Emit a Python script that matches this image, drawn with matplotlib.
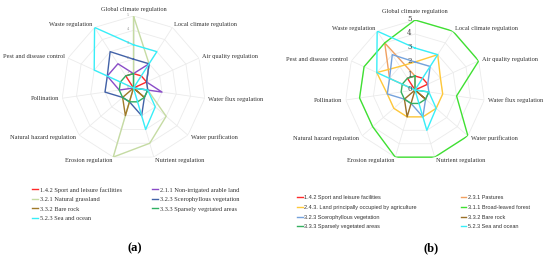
import numpy as np
import matplotlib.pyplot as plt

# categories clockwise from the top
CATEGORIES = ["Global climate regulation", "Local climate regulation",
              "Air quality regulation", "Water flux regulation",
              "Water purification", "Nutrient regulation", "Erosion regulation",
              "Natural hazard regulation", "Pollination",
              "Pest and disease control", "Waste regulation"]
LEVELS = [0, 1, 2, 3, 4, 5]

# scores per category (same order as CATEGORIES)
SPORT = [1, 1, 1, 0, 0, 0, 0, 0, 0, 0, 1]
NON_IRRIGATED = [1, 2, 1, 2, 0, 0, 0, 0, 1, 2, 2]
GRASSLAND = [5, 2, 1, 1, 3, 4, 5, 0, 0, 0, 0]
SCLEROPHYLLOUS = [2, 2, 1, 1, 1, 2, 1, 1, 2, 2, 3]
BARE_ROCK = [0, 0, 0, 0, 1, 0, 2, 1, 0, 0, 0]
SPARSE = [1, 0, 0, 1, 1, 1, 1, 1, 1, 1, 1]
SEA = [3, 3, 0, 1, 2, 3, 0, 0, 0, 3, 5]
PASTURES = [1, 0, 0, 0, 0, 0, 0, 0, 0, 2, 4]
AGRICULTURE = [2, 3, 2, 2, 2, 2, 2, 2, 2, 3, 2]
FOREST = [5, 5, 5, 3, 5, 5, 5, 4, 4, 4, 4]

SERIES_A = [
    ("1.4.2 Sport and leisure facilities", SPORT, "#ff2a2a"),
    ("2.1.1 Non-irrigated arable land", NON_IRRIGATED, "#8a4cc8"),
    ("3.2.1 Natural grassland", GRASSLAND, "#c5dba3"),
    ("3.2.3 Scerophyllous vegetation", SCLEROPHYLLOUS, "#4262a8"),
    ("3.3.2 Bare rock", BARE_ROCK, "#a07a2a"),
    ("3.3.3 Sparsely vegrtated areas", SPARSE, "#2fb062"),
    ("5.2.3 Sea and ocean", SEA, "#38eef8"),
]
SERIES_B = [
    ("1.4.2 Sport and leisure facilities", SPORT, "#ff2a2a"),
    ("2.3.1 Pastures", PASTURES, "#f0a060"),
    ("2.4.3. Land principally occupied by agriculture", AGRICULTURE, "#ffc83a"),
    ("3.1.1 Broad-leaved forest", FOREST, "#3fe032"),
    ("3.2.3 Scerophyllous vegetation", SCLEROPHYLLOUS, "#74a2dc"),
    ("3.3.2 Bare rock", BARE_ROCK, "#9a7028"),
    ("3.3.3 Sparsely vegetated areas", SPARSE, "#35b060"),
    ("5.2.3 Sea and ocean", SEA, "#38eef8"),
]

ANGLES = np.linspace(0, 2 * np.pi, len(CATEGORIES), endpoint=False)
W, H = 550, 259


def radar(rect, series, tick_size, tick_color, top_r):
    ax = fig.add_axes(rect, projection="polar")
    ax.set_theta_offset(np.pi / 2)
    ax.set_theta_direction(-1)
    ax.set_ylim(0, 5)
    ax.grid(False)
    ax.set_xticks([])
    ax.set_yticks([])
    ax.spines["polar"].set_visible(False)
    closed = np.append(ANGLES, ANGLES[0])

    # polygon grid
    for lev in LEVELS[1:]:
        ax.plot(closed, [lev] * len(closed), color="#ebebeb", lw=0.6, zorder=0)
    for a in ANGLES:
        ax.plot([a, a], [0, 5], color="#ebebeb", lw=0.6, zorder=0)
    for lev in LEVELS:
        ax.annotate(str(lev), xy=(0, lev), xytext=(-4, 1), textcoords="offset points",
                    ha="center", va="center", fontsize=tick_size, color=tick_color,
                    family="DejaVu Serif")

    # category labels
    for a, name in zip(ANGLES, CATEGORIES):
        s = np.sin(a)
        if abs(s) < 1e-6:
            ax.text(a, top_r, name, ha="center", va="bottom", fontsize=4.6,
                    color="#333333", family="Liberation Serif")
        else:
            ax.text(a, 5.25, name, ha="left" if s > 0 else "right", va="center",
                    fontsize=4.6, color="#333333", family="Liberation Serif")

    lines = []
    for name, vals, col in series:
        ln, = ax.plot(closed, vals + vals[:1], color=col, lw=1.0, label=name)
        lines.append(ln)
    return ax, lines


fig = plt.figure(figsize=(W / 100, H / 100), dpi=100)

# (a)
cx, cy, r = 133.5, 88, 72
ax_a, lines_a = radar([(cx - r) / W, 1 - (cy + r) / H, 2 * r / W, 2 * r / H],
                      SERIES_A, 2.6, "#999999", 5.3)
order = [0, 2, 4, 6, 1, 3, 5]
ax_a.legend([lines_a[i] for i in order], [SERIES_A[i][0] for i in order],
            loc="upper left", bbox_to_anchor=(32 / W, 1 - 187 / H),
            bbox_transform=fig.transFigure, ncol=2, frameon=False,
            prop={"family": "Liberation Serif", "size": 4.6},
            handlelength=1.0, handletextpad=0.2, columnspacing=4.75,
            labelspacing=0.63, borderpad=0, borderaxespad=0, labelcolor="#333333")

# (b)
cx, cy, r = 415, 90, 70
ax_b, lines_b = radar([(cx - r) / W, 1 - (cy + r) / H, 2 * r / W, 2 * r / H],
                      SERIES_B, 5.0, "#444444", 5.45)
order = [0, 2, 4, 6, 1, 3, 5, 7]
ax_b.legend([lines_b[i] for i in order], [SERIES_B[i][0] for i in order],
            loc="upper left", bbox_to_anchor=(297 / W, 1 - 195 / H),
            bbox_transform=fig.transFigure, ncol=2, frameon=False,
            prop={"family": "Liberation Sans", "size": 4.0},
            handlelength=1.0, handletextpad=0.3, columnspacing=7.9,
            labelspacing=0.86, borderpad=0, borderaxespad=0, labelcolor="#333333")

fig.text(135 / W, 1 - 248 / H, "(a)", ha="center", va="center", fontsize=9,
         fontweight="bold", family="Liberation Serif")
fig.text(431 / W, 1 - 248 / H, "(b)", ha="center", va="center", fontsize=9,
         fontweight="bold", family="Liberation Serif")

fig.savefig("out.png", dpi=100)
